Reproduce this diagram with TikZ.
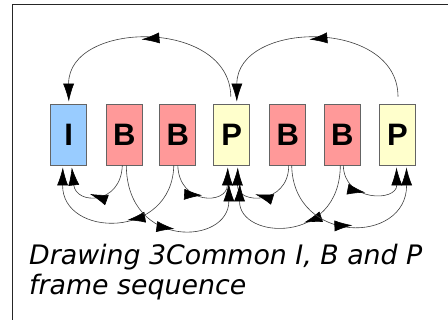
\documentclass[tikz,border=0pt]{standalone}
\usepackage{fontspec}
\newfontfamily\capfont{DejaVu Sans}
\newfontfamily\boxfont{Liberation Sans}
\usetikzlibrary{arrows.meta,decorations.markings}
\definecolor{iblue}{RGB}{153,204,255}
\definecolor{bpink}{RGB}{255,153,153}
\definecolor{pyell}{RGB}{255,255,204}
\definecolor{edgegray}{RGB}{100,100,100}
\tikzset{
  frm/.style={minimum width=36pt,minimum height=61pt,draw=edgegray,line width=0.8pt,inner sep=0pt,
    font=\boxfont\bfseries\fontsize{31}{31}\selectfont},
  con/.style={draw=black!75,line width=0.6pt,-{Latex[length=18pt,width=11pt,color=black]}},
  midarr/.style={postaction={decorate},decoration={markings,mark=at position #1 with {\arrow{Latex[length=18pt,width=11pt,color=black]}}}},
}
\begin{document}
\begin{tikzpicture}[x=1pt,y=-1pt]
\useasboundingbox (0,0) rectangle (448,320);
\fill[white] (0,0) rectangle (448,320);
\draw[line width=1pt,black!85] (12,320) -- (12,5) -- (448,5);
\node[frm,fill=iblue] (I) at (68.8,134.5) {I};
\node[frm,fill=bpink] (B1) at (124.3,134.5) {B};
\node[frm,fill=bpink] (B2) at (177.8,134.5) {B};
\node[frm,fill=pyell] (P1) at (231.8,134.5) {P};
\node[frm,fill=bpink] (B3) at (287.7,134.5) {B};
\node[frm,fill=bpink] (B4) at (342.3,134.5) {B};
\node[frm,fill=pyell] (P2) at (397.5,134.5) {P};
% top arcs
\draw[con,midarr=0.53] ([xshift=-1pt,yshift=7pt]P1.north) .. controls (230,18) and (68,20) .. ([yshift=2pt]I.north);
\draw[con,midarr=0.53] ([xshift=0.5pt,yshift=7pt]P2.north) .. controls (398,18) and (237,20) .. ([xshift=5pt,yshift=2pt]P1.north);
% bottom arcs, left half
\draw[con,midarr=0.6] ([xshift=-2pt]B1.south) .. controls (121,205) and (76,205) .. ([xshift=3pt,yshift=-2pt]I.south);
\draw[con,midarr=0.45] ([xshift=-4pt]B2.south) .. controls (172,240) and (62,238) .. ([xshift=-6pt,yshift=-2pt]I.south);
\draw[con,midarr=0.52] ([xshift=2pt]B1.south) .. controls (127,250) and (229,245) .. ([xshift=-3pt,yshift=-18pt]P1.south);
\draw[con,midarr=0.5] ([xshift=0pt]B2.south) .. controls (179,205) and (227,205) .. ([xshift=-4pt,yshift=-2pt]P1.south);
% bottom arcs, right half
\draw[con,midarr=0.6] ([xshift=1pt]B3.south) .. controls (289,205) and (237,205) .. ([xshift=6pt,yshift=-2pt]P1.south);
\draw[con,midarr=0.45] ([xshift=-2pt]B4.south) .. controls (340,245) and (239,240) .. ([xshift=8pt,yshift=-18pt]P1.south);
\draw[con,midarr=0.52] ([xshift=4pt]B3.south) .. controls (293,245) and (407,245) .. ([xshift=9pt,yshift=-2pt]P2.south);
\draw[con,midarr=0.45] ([xshift=1pt]B4.south) .. controls (344,202) and (397,202) .. ([xshift=-1pt,yshift=-2pt]P2.south);
\node[anchor=base west,inner sep=0pt,align=left,font=\capfont\itshape\fontsize{26.8}{30}\selectfont] (cap) at (29,295) {Drawing 3Common I, B and P\\frame sequence};
\end{tikzpicture}
\end{document}
